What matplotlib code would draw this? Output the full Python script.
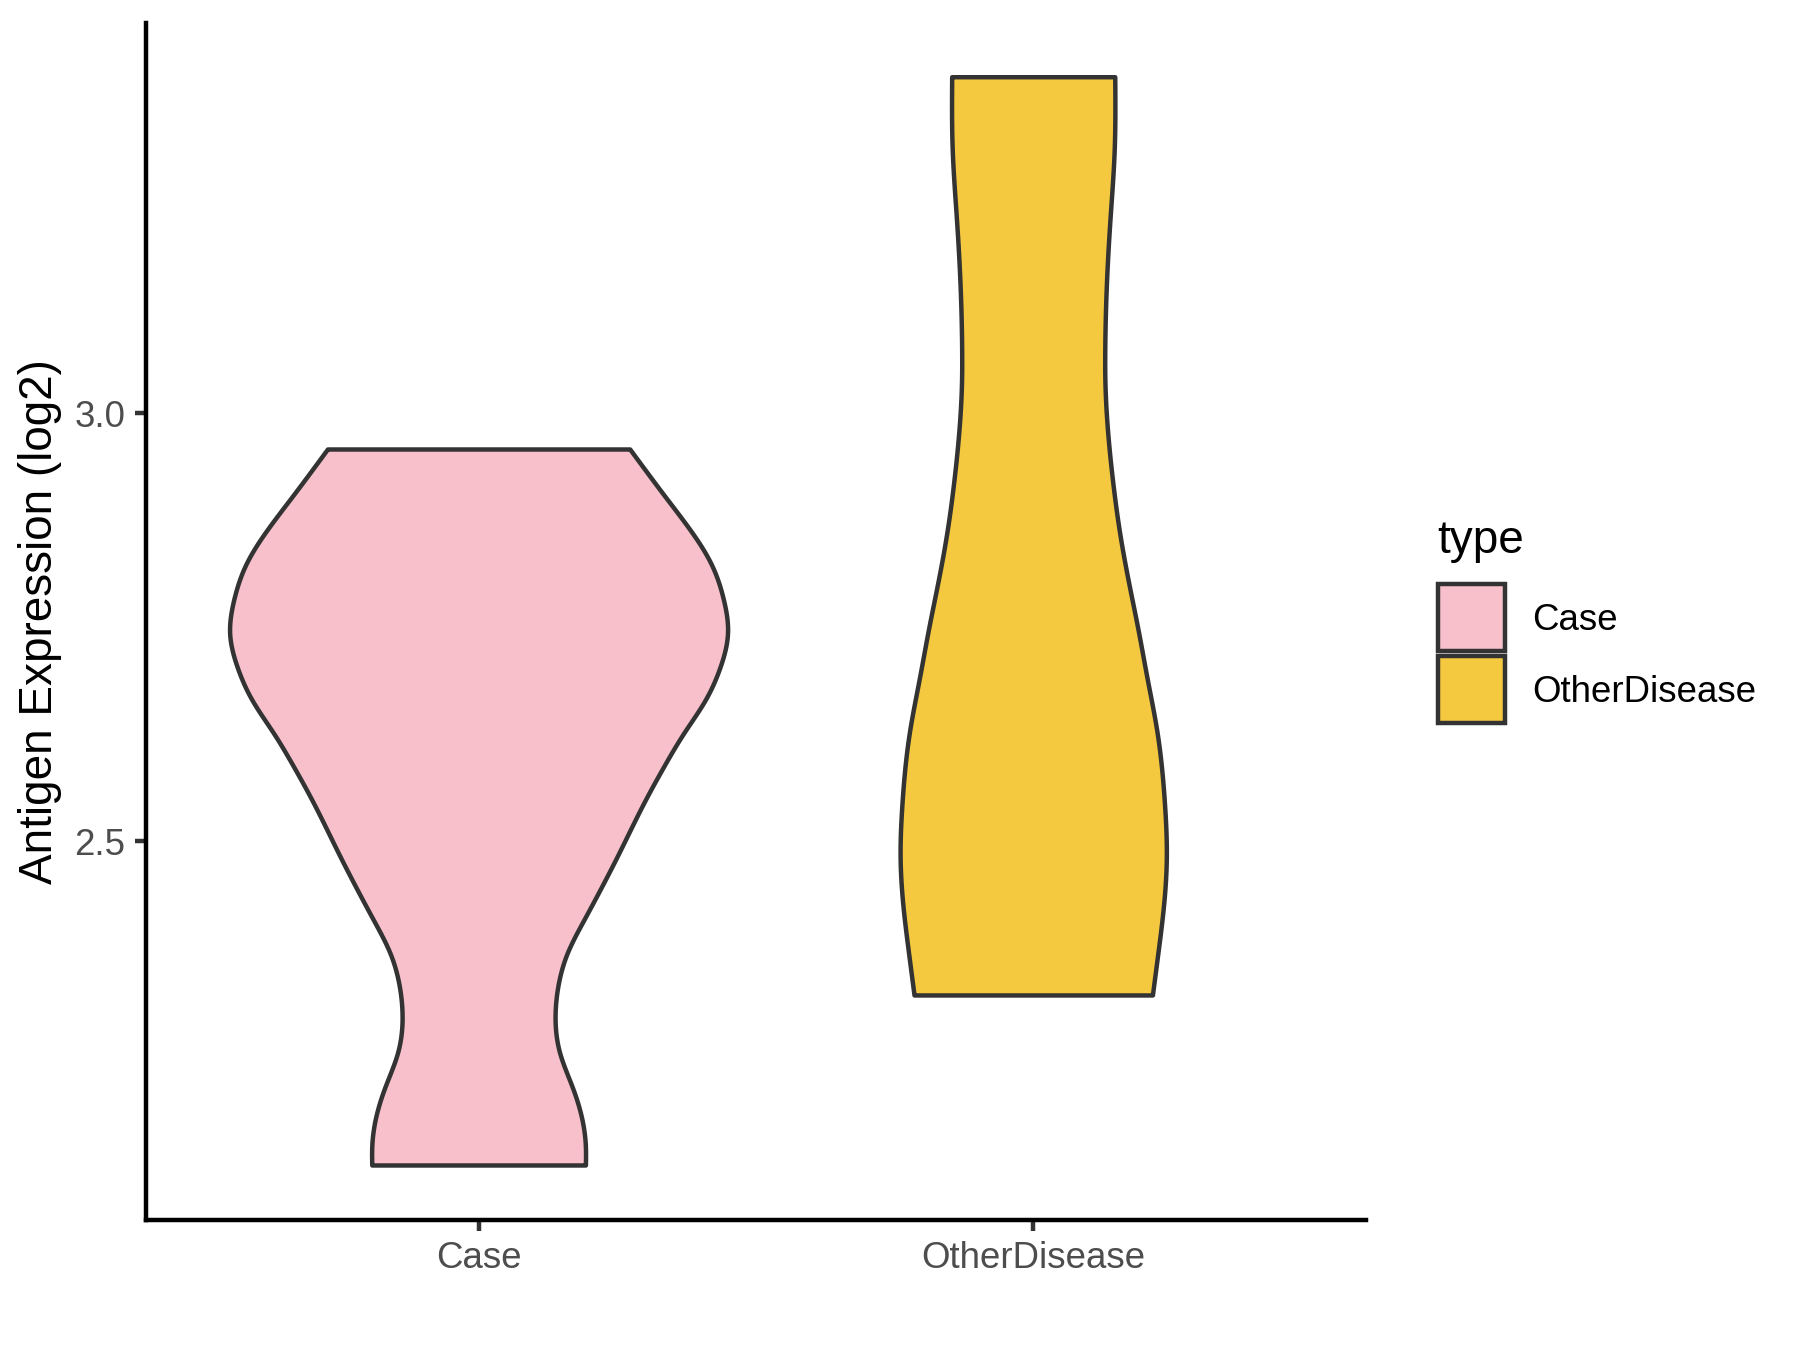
import numpy as np
import matplotlib
matplotlib.use("Agg")
import matplotlib.pyplot as plt
from matplotlib.patches import Rectangle

plt.rcParams['font.family'] = ['Liberation Sans', 'DejaVu Sans']

# ---- data ----
categories = ["Case", "OtherDisease"]
colors = ["#F8C0CB", "#F5C93F"]

# violin outline: y values and half-widths (in x-axis units)
case_y = [2.1225, 2.1439, 2.175, 2.2139, 2.2529, 2.2995, 2.3306, 2.3695, 2.4084,
          2.4862, 2.5484, 2.5874, 2.6263, 2.6651, 2.704, 2.7429, 2.7818, 2.8246,
          2.8635, 2.9023, 2.958]
case_hw = [0.1926, 0.1926, 0.1866, 0.1686, 0.1464, 0.138, 0.1428, 0.1596, 0.1896,
           0.2526, 0.3005, 0.3336, 0.3696, 0.4085, 0.4355, 0.4488, 0.4416, 0.4187,
           0.3815, 0.3365, 0.2725]

other_y = [2.3209, 2.3656, 2.4239, 2.4823, 2.5406, 2.6301, 2.6884, 2.7468, 2.8051,
           2.8635, 2.9218, 2.9802, 3.0385, 3.0735, 3.1513, 3.2291, 3.3069, 3.3924]
other_hw = [0.2149, 0.2239, 0.2347, 0.240, 0.237, 0.2226, 0.2059, 0.1891, 0.1711,
            0.155, 0.1429, 0.1339, 0.1292, 0.129, 0.132, 0.1387, 0.146, 0.147]

y_ticks = [2.5, 3.0]
y_tick_labels = ["2.5", "3.0"]
y_label = "Antigen Expression (log2)"
legend_title = "type"


def natural_spline(x, y, xs):
    x = np.asarray(x, float); y = np.asarray(y, float)
    n = len(x)
    h = np.diff(x)
    A = np.zeros((n, n)); b = np.zeros(n)
    A[0, 0] = 1; A[-1, -1] = 1
    for i in range(1, n - 1):
        A[i, i - 1] = h[i - 1]
        A[i, i] = 2 * (h[i - 1] + h[i])
        A[i, i + 1] = h[i]
        b[i] = 3 * ((y[i + 1] - y[i]) / h[i] - (y[i] - y[i - 1]) / h[i - 1])
    c = np.linalg.solve(A, b)
    bb = (y[1:] - y[:-1]) / h - h * (2 * c[:-1] + c[1:]) / 3
    d = (c[1:] - c[:-1]) / (3 * h)
    idx = np.clip(np.searchsorted(x, xs) - 1, 0, n - 2)
    dx = xs - x[idx]
    return y[idx] + bb[idx] * dx + c[idx] * dx ** 2 + d[idx] * dx ** 3


fig = plt.figure(figsize=(6, 4.5), dpi=300)
W, H = 1800, 1350
ax_left, ax_right, ax_top, ax_bottom = 145.8, 1366, 23, 1220
ax = fig.add_axes([ax_left / W, 1 - ax_bottom / H, (ax_right - ax_left) / W,
                   (ax_bottom - ax_top) / H])

profiles = [(case_y, case_hw), (other_y, other_hw)]
for i, ((ys, hws), col) in enumerate(zip(profiles, colors)):
    pos = i + 1
    yy = np.linspace(ys[0], ys[-1], 400)
    ww = natural_spline(ys, hws, yy)
    ax.fill_betweenx(yy, pos - ww, pos + ww, facecolor=col, edgecolor="#333333",
                     linewidth=1.07, joinstyle="round")

ax.set_xlim(0.4, 2.6)
ax.set_ylim(2.0583, 3.4551)
ax.set_xticks([1, 2])
ax.set_xticklabels(categories)
ax.set_yticks(y_ticks)
ax.set_yticklabels(y_tick_labels)
for s in ["top", "right"]:
    ax.spines[s].set_visible(False)
for s in ["left", "bottom"]:
    ax.spines[s].set_linewidth(1.07)
    ax.spines[s].set_color("black")
ax.tick_params(axis="both", length=2.75, width=1.07, color="#333333",
               labelsize=8.8, labelcolor="#4D4D4D", pad=2.2)

fig.text(40 / W, 1 - 622 / H, y_label, rotation=90, ha="center", va="center",
         fontsize=11, color="black")

# legend
fig.text(1437 / W, 1 - 541 / H, legend_title, ha="left", va="center",
         fontsize=11, color="black")
key_tops = [584, 656]
key_h = 67
labels_y = [620, 692]
for col, top, lab, ly in zip(colors, key_tops, categories, labels_y):
    r = Rectangle((1438 / W, 1 - (top + key_h) / H), 67 / W, key_h / H,
                  transform=fig.transFigure, facecolor=col, edgecolor="#333333",
                  linewidth=1.07)
    fig.add_artist(r)
    fig.text(1532 / W, 1 - ly / H, lab, ha="left", va="center", fontsize=8.8,
             color="black")

fig.savefig("out.png", dpi=300)
